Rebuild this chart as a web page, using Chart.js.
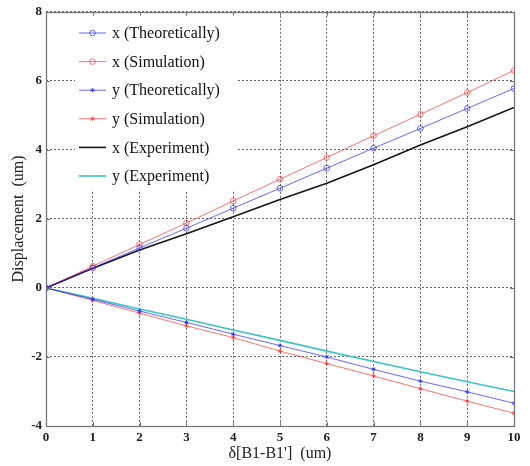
<!DOCTYPE html>
<html>
<head>
<meta charset="utf-8">
<script src="https://cdn.jsdelivr.net/npm/chart.js@4/dist/chart.umd.min.js"></script>
<style>
  html, body { margin: 0; padding: 0; background: #fff; }
  #wrap { width: 530px; height: 466px; }
</style>
</head>
<body>
<div id="wrap"><canvas id="c" width="530" height="466"></canvas></div>
<script>
// offset steps along the x axis
var steps = [0, 1, 2, 3, 4, 5, 6, 7, 8, 9, 10];

// displacement values (um)
var xTheory = [0, 0.58, 1.16, 1.73, 2.31, 2.89, 3.47, 4.05, 4.62, 5.20, 5.78];
var xSim    = [0, 0.63, 1.26, 1.88, 2.52, 3.15, 3.78, 4.41, 5.03, 5.66, 6.30];
var yTheory = [0, -0.33, -0.67, -1.00, -1.34, -1.67, -2.00, -2.36, -2.70, -3.01, -3.34];
var ySim    = [0, -0.36, -0.73, -1.10, -1.44, -1.83, -2.19, -2.55, -2.92, -3.28, -3.63];
var xExp    = [0, 0.57, 1.10, 1.57, 2.06, 2.56, 3.03, 3.57, 4.14, 4.67, 5.23];
var yExp    = [0, -0.30, -0.61, -0.91, -1.22, -1.52, -1.83, -2.13, -2.43, -2.72, -3.00];

var yTicks = [-4, -2, 0, 2, 4, 6, 8];

var serif = '"Liberation Serif", "Times New Roman", serif';

function pts(vals) {
  return steps.map(function (s, i) { return { x: s, y: vals[i] }; });
}

function series(label, vals, color, style, radius, width) {
  return {
    label: label,
    data: pts(vals),
    borderColor: color,
    backgroundColor: style === 'star' ? color : 'rgba(0,0,0,0)',
    borderWidth: width,
    pointStyle: style || false,
    pointRadius: style ? radius : 0,
    pointBorderWidth: 1,
    pointBorderColor: color,
    pointBackgroundColor: style === 'star' ? color : 'rgba(0,0,0,0)',
    tension: 0,
    fill: false
  };
}

// box around the plot with inward tick marks, like the classic plot frame
var frame = {
  id: 'frame',
  afterDatasetsDraw: function (chart) {
    var ctx = chart.ctx, a = chart.chartArea;
    var xs = chart.scales.x, ys = chart.scales.y;
    ctx.save();
    ctx.strokeStyle = '#777';
    ctx.lineWidth = 1.3;
    ctx.strokeRect(Math.round(a.left) + 0.5, Math.round(a.top) + 0.5,
      Math.round(a.right - a.left), Math.round(a.bottom - a.top));
    ctx.lineWidth = 1;
    ctx.beginPath();
    xs.ticks.forEach(function (t) {
      var px = Math.round(xs.getPixelForValue(t.value)) + 0.5;
      ctx.moveTo(px, a.top); ctx.lineTo(px, a.top + 4);
      ctx.moveTo(px, a.bottom); ctx.lineTo(px, a.bottom - 4);
    });
    ys.ticks.forEach(function (t) {
      var py = Math.round(ys.getPixelForValue(t.value)) + 0.5;
      ctx.moveTo(a.left, py); ctx.lineTo(a.left + 4, py);
      ctx.moveTo(a.right, py); ctx.lineTo(a.right - 4, py);
    });
    ctx.stroke();
    ctx.restore();
  }
};

// legend box in the upper left corner of the plot
var boxLegend = {
  id: 'boxLegend',
  beforeDatasetsDraw: function (chart) {
    var ctx = chart.ctx;
    var left = 75, top = 13, w = 162, h = 178;
    var rowH = 28.6, y0 = 33;
    ctx.save();
    ctx.fillStyle = '#fff';
    ctx.fillRect(left, top, w, h);
    ctx.font = '16px ' + serif;
    ctx.textBaseline = 'middle';
    chart.data.datasets.forEach(function (ds, i) {
      var y = y0 + i * rowH;
      ctx.strokeStyle = ds.borderColor;
      ctx.lineWidth = ds.borderWidth;
      ctx.beginPath();
      ctx.moveTo(79, y); ctx.lineTo(106, y);
      ctx.stroke();
      if (ds.pointStyle) {
        ctx.lineWidth = 1;
        ctx.fillStyle = ds.pointBackgroundColor;
        Chart.helpers.drawPoint(ctx, { pointStyle: ds.pointStyle, radius: ds.pointRadius, borderWidth: 1, rotation: 0 }, 92.5, y);
      }
      ctx.fillStyle = '#111';
      ctx.fillText(ds.label, 112, y + 1);
    });
    ctx.restore();
  }
};

new Chart(document.getElementById('c').getContext('2d'), {
  type: 'line',
  data: {
    datasets: [
      series('x (Theoretically)', xTheory, 'rgba(40,40,255,0.7)', 'circle', 2.8, 1),
      series('x (Simulation)', xSim, 'rgba(255,40,40,0.65)', 'circle', 2.8, 1),
      series('y (Theoretically)', yTheory, 'rgba(40,40,255,0.7)', 'star', 2.2, 1),
      series('y (Simulation)', ySim, 'rgba(255,40,40,0.65)', 'star', 2.2, 1),
      series('x (Experiment)', xExp, '#151515', null, 0, 1.6),
      series('y (Experiment)', yExp, '#3cc4c0', null, 0, 1.6)
    ]
  },
  options: {
    responsive: false,
    animation: false,
    layout: { padding: { top: 11, right: 16, left: 0, bottom: 0 } },
    plugins: {
      legend: { display: false },
      tooltip: { enabled: false }
    },
    scales: {
      x: {
        type: 'linear',
        min: 0,
        max: 10,
        afterFit: function (s) { s.height = 40; },
        ticks: {
          stepSize: 1,
          padding: 4,
          color: '#222',
          font: { family: serif, size: 13, weight: 'bold' }
        },
        grid: { color: '#666', lineWidth: 1, drawTicks: false },
        border: { display: false, dash: [2, 2] },
        title: {
          display: true,
          text: "\u03b4[B1-B1']  (um)",
          color: '#222',
          font: { family: serif, size: 16 },
          padding: { top: 0, bottom: 3 }
        }
      },
      y: {
        type: 'linear',
        min: -4,
        max: 8,
        afterFit: function (s) { s.width = 46; },
        afterBuildTicks: function (s) {
          s.ticks = yTicks.map(function (v) { return { value: v }; });
        },
        ticks: {
          padding: 4,
          color: '#222',
          font: { family: serif, size: 13, weight: 'bold' }
        },
        grid: { color: '#666', lineWidth: 1, drawTicks: false },
        border: { display: false, dash: [2, 2] },
        title: {
          display: true,
          text: 'Displacement  (um)',
          color: '#222',
          font: { family: serif, size: 16 },
          padding: { top: 9, bottom: 0 }
        }
      }
    }
  },
  plugins: [boxLegend, frame]
});
</script>
</body>
</html>
